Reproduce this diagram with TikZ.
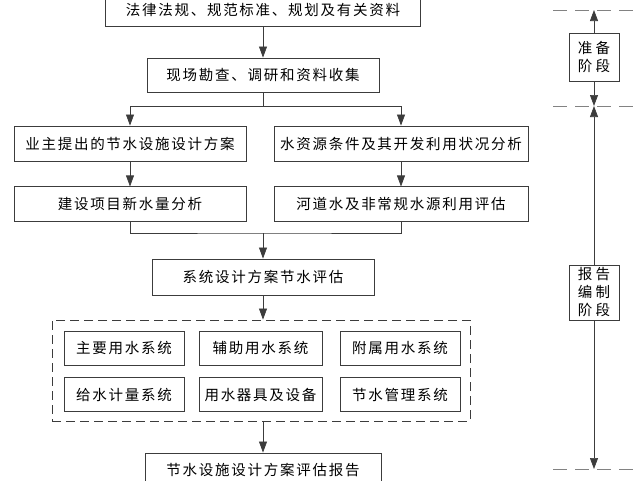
\documentclass[tikz,border=0pt]{standalone}
\usepackage{fontspec}
\newfontfamily\cjk[LetterSpace=12]{Noto Sans CJK SC}
\newfontfamily\cjkside[LetterSpace=22]{Noto Sans CJK SC}
\usepackage{tikz}
\usetikzlibrary{arrows.meta,positioning}
\definecolor{linegray}{RGB}{60,60,60}
\definecolor{dashgray}{RGB}{130,130,130}
\tikzset{
  box/.style={draw=linegray,line width=0.9pt,minimum height=35,inner sep=0pt,
    font=\cjk\fontsize{14.5}{16}\selectfont},
  frame/.style={draw=linegray,line width=0.9pt,dash pattern=on 9pt off 5pt},
  stage/.style={draw=linegray,line width=0.9pt,minimum width=50,align=center,
    inner sep=0pt,font=\cjkside\fontsize{14.5}{18}\selectfont},
  phaseline/.style={draw=dashgray,line width=0.9pt,dash pattern=on 14pt off 8pt},
  link/.style={draw=linegray,line width=0.7pt}
}
\tikzstyle{arrow} = [link,-{Triangle[length=11pt,width=8pt]}]

\begin{document}
\begin{tikzpicture}[x=1pt,y=-1pt]
  \useasboundingbox (0,0) rectangle (640,480);
  \clip (0,0) rectangle (640,480);
  % main column
  \node[box,minimum width=315,minimum height=32] (law) at (263,10) {法律法规、规范标准、规划及有关资料};
  \node[box,minimum width=232,minimum height=34] (survey) at (263,75) {现场勘查、调研和资料收集};
  \node[box,minimum width=232] (owner) at (130,143.5) {业主提出的节水设施设计方案};
  \node[box,minimum width=254] (resource) at (401,143.5) {水资源条件及其开发利用状况分析};
  \node[box,minimum width=232,below=25pt of owner] (demand) {建设项目新水量分析};
  \node[box,minimum width=254,below=25pt of resource] (river) {河道水及非常规水源利用评估};
  \node[box,minimum width=222,minimum height=36] (system) at (263,277) {系统设计方案节水评估};
  % subsystems
  \node[frame,minimum width=418,minimum height=101] (group) at (261,370.5) {};
  \node[box,minimum width=120,minimum height=34] (main) at (124,348) {主要用水系统};
  \node[box,minimum width=123,minimum height=34] (aux) at (260.5,348) {辅助用水系统};
  \node[box,minimum width=120,minimum height=34] (attach) at (400,348) {附属用水系统};
  \node[box,minimum width=120,minimum height=34,below=12pt of main] (meter) {给水计量系统};
  \node[box,minimum width=123,minimum height=34,below=12pt of aux] (device) {用水器具及设备};
  \node[box,minimum width=120,minimum height=34,below=12pt of attach] (manage) {节水管理系统};
  \node[box,minimum width=236,minimum height=34] (report) at (263,470) {节水设施设计方案评估报告};

  \draw[arrow] (law) -- (survey);
  \draw[link] (survey.south) -- ++(0,14) coordinate (split);
  \draw[arrow] (split) -| (owner.north);
  \draw[arrow] (split) -| (resource.north);
  \draw[arrow] (owner) -- (demand);
  \draw[arrow] (resource) -- (river);
  \coordinate (merge) at (263,233);
  \draw[link] (demand.south) |- (merge) -| (river.south);
  \draw[arrow] (merge) -- (system);
  \draw[arrow] (system.south) -- (system.south |- group.north);
  \draw[arrow] (system.south |- group.south) -- (report);

  % stages
  \coordinate (start) at (594,10);
  \coordinate (switch) at (594,106);
  \coordinate (finish) at (594,469);
  \draw[phaseline] (553,10) -- (640,10);
  \draw[phaseline] (553,106) -- (640,106);
  \draw[phaseline] (553,469) -- (640,469);
  \node[stage,minimum height=48] (prep) at (594,57) {准备\\阶段};
  \node[stage,minimum height=55] (write) at (594,292.5) {报告\\编制\\阶段};
  \draw[arrow] (prep) -- (start);
  \draw[arrow] (prep) -- (switch);
  \draw[arrow] (write) -- (switch);
  \draw[arrow] (write) -- (finish);
\end{tikzpicture}
\end{document}
